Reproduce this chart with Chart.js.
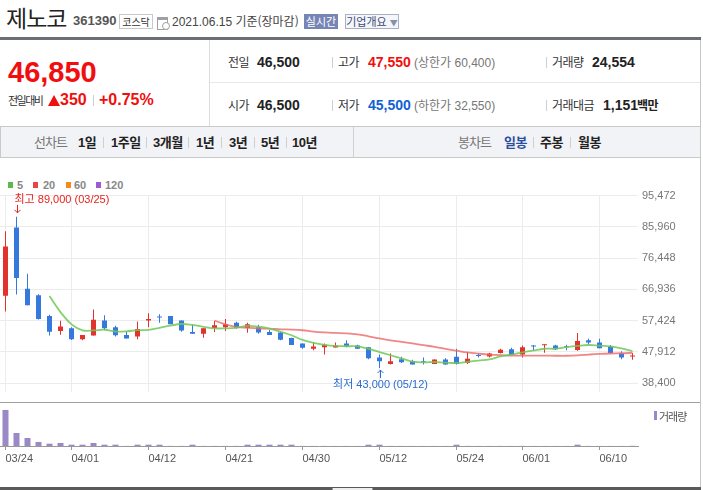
<!DOCTYPE html>
<html lang="ko">
<head>
<meta charset="UTF-8">
<title>제노코 일봉</title>
<script src="https://cdn.jsdelivr.net/npm/chart.js"></script>
<style>
  body { margin:0; width:703px; height:490px; position:relative; overflow:hidden; background:#fff;
         font-family:"Liberation Sans", Arial, "Noto Sans CJK KR", sans-serif; color:#333; }
  .a { position:absolute; white-space:nowrap; line-height:20px; }
  .k { font-family:"Noto Sans CJK KR", sans-serif; }
  .b { font-weight:bold; }
  .ln { position:absolute; }
  .lbl { font-family:"Noto Sans CJK KR", sans-serif; font-size:12px; color:#333; letter-spacing:-0.5px; }
  .val { font-size:14px; font-weight:bold; color:#222; }
  .sub { font-size:12px; color:#777; }
  .tab { font-size:13px; font-weight:bold; color:#222; letter-spacing:-0.5px; }
  .sep { position:absolute; width:1px; background:#cfcfcf; }
  canvas { position:absolute; left:0; }
</style>
</head>
<body>
  <!-- 종목명 -->
  <div class="a k" style="left:6px;top:4px;font-size:23px;line-height:26px;color:#222;letter-spacing:-1px">제노코</div>
  <div class="a b" style="left:73px;top:11px;font-size:13px;color:#555">361390</div>
  <div class="a k" style="left:119px;top:14px;width:32px;height:13px;border:1px solid #c8c8c8;font-size:10px;line-height:13px;text-align:center;color:#333">코스닥</div>
  <div class="ln" style="left:157px;top:17px;width:9px;height:9px;border:1px solid #a0a0a0;border-top:3px solid #a0a0a0"></div>
  <div class="ln" style="left:162px;top:22px;width:6px;height:6px;border:1px solid #a0a0a0;border-radius:50%;background:#fff"></div>
  <div class="a" style="left:172px;top:11px;font-size:12px;color:#444">2021.06.15 <span class="k">기준(장마감)</span></div>
  <div class="a k" style="left:304px;top:14px;width:34px;height:15px;background:#7685b6;color:#fff;font-size:11px;line-height:15px;text-align:center">실시간</div>
  <div class="a k" style="left:345px;top:14px;width:52px;height:13px;border:1px solid #a9b0c6;background:#f5f6fa;color:#3d4a76;font-size:11px;line-height:13px;text-align:center">기업개요 <span style="font-size:8px;color:#8a90a8">▼</span></div>

  <div class="ln" style="left:0;top:37px;width:701px;height:3px;background:#6b6e75"></div>
  <div class="ln" style="left:700px;top:40px;width:1px;height:450px;background:#c6c6c6"></div>

  <!-- 현재가 -->
  <div class="ln" style="left:209px;top:40px;width:1px;height:86px;background:#dcdcdc"></div>
  <div class="ln" style="left:210px;top:82px;width:490px;height:1px;background:#e8e8e8"></div>
  <div class="a b" style="left:8px;top:58px;font-size:29px;line-height:29px;color:#f00e0e">46,850</div>
  <div class="a k" style="left:8px;top:90px;font-size:11px;color:#333;letter-spacing:-1.5px">전일대비</div>
  <div class="ln" style="left:48px;top:95px;width:0;height:0;border-left:6px solid transparent;border-right:6px solid transparent;border-bottom:11px solid #f00e0e"></div>
  <div class="a b" style="left:60px;top:90px;font-size:16px;color:#f00e0e">350</div>
  <div class="sep" style="left:93px;top:95px;height:11px"></div>
  <div class="a b" style="left:99px;top:90px;font-size:16px;color:#f00e0e">+0.75%</div>

  <div class="a lbl" style="left:228px;top:52px">전일</div>
  <div class="a val" style="left:257px;top:52px">46,500</div>
  <div class="sep" style="left:332px;top:57px;height:11px"></div>
  <div class="a lbl" style="left:338px;top:52px">고가</div>
  <div class="a val" style="left:368px;top:52px;color:#f00e0e">47,550</div>
  <div class="a sub" style="left:414px;top:52px">(<span class="k">상한가</span> 60,400)</div>
  <div class="sep" style="left:546px;top:57px;height:11px"></div>
  <div class="a lbl" style="left:552px;top:52px">거래량</div>
  <div class="a val" style="left:592px;top:52px">24,554</div>

  <div class="a lbl" style="left:228px;top:95px">시가</div>
  <div class="a val" style="left:257px;top:95px">46,500</div>
  <div class="sep" style="left:332px;top:100px;height:11px"></div>
  <div class="a lbl" style="left:338px;top:95px">저가</div>
  <div class="a val" style="left:368px;top:95px;color:#1261d4">45,500</div>
  <div class="a sub" style="left:414px;top:95px">(<span class="k">하한가</span> 32,550)</div>
  <div class="sep" style="left:546px;top:100px;height:11px"></div>
  <div class="a lbl" style="left:552px;top:95px">거래대금</div>
  <div class="a val" style="left:603px;top:95px">1,151</div>
  <div class="a lbl b" style="left:637px;top:95px;color:#222">백만</div>

  <!-- 기간 탭 -->
  <div class="ln" style="left:0;top:126px;width:699px;height:30px;background:#f2f3f6;border:1px solid #c9c9c9"></div>
  <div class="ln" style="left:353px;top:127px;width:1px;height:30px;background:#d0d0d0"></div>
  <div class="a k" style="left:34px;top:132px;font-size:13px;color:#777;letter-spacing:-1px">선차트</div>
  <div class="a tab" style="left:78px;top:132px">1<span class="k">일</span></div>
  <div class="sep" style="left:103px;top:137px;height:11px"></div>
  <div class="a tab" style="left:111px;top:132px">1<span class="k">주일</span></div>
  <div class="sep" style="left:146px;top:137px;height:11px"></div>
  <div class="a tab" style="left:153px;top:132px">3<span class="k">개월</span></div>
  <div class="sep" style="left:188px;top:137px;height:11px"></div>
  <div class="a tab" style="left:196px;top:132px">1<span class="k">년</span></div>
  <div class="sep" style="left:221px;top:137px;height:11px"></div>
  <div class="a tab" style="left:229px;top:132px">3<span class="k">년</span></div>
  <div class="sep" style="left:254px;top:137px;height:11px"></div>
  <div class="a tab" style="left:261px;top:132px">5<span class="k">년</span></div>
  <div class="sep" style="left:286px;top:137px;height:11px"></div>
  <div class="a tab" style="left:292px;top:132px">10<span class="k">년</span></div>
  <div class="a k" style="left:458px;top:132px;font-size:13px;color:#777;letter-spacing:-1px">봉차트</div>
  <div class="a tab k" style="left:504px;top:132px;color:#2e4f9e">일봉</div>
  <div class="sep" style="left:533px;top:137px;height:11px"></div>
  <div class="a tab k" style="left:540px;top:132px">주봉</div>
  <div class="sep" style="left:570px;top:137px;height:11px"></div>
  <div class="a tab k" style="left:578px;top:132px">월봉</div>

  <!-- 이동평균 범례 -->
  <div class="ln" style="left:8px;top:182px;width:5px;height:6px;background:#5cba47"></div>
  <div class="a b" style="left:17px;top:175px;font-size:11px;color:#888">5</div>
  <div class="ln" style="left:33px;top:182px;width:5px;height:6px;background:#e84545"></div>
  <div class="a b" style="left:43px;top:175px;font-size:11px;color:#888">20</div>
  <div class="ln" style="left:66px;top:182px;width:5px;height:6px;background:#f58a1f"></div>
  <div class="a b" style="left:74px;top:175px;font-size:11px;color:#888">60</div>
  <div class="ln" style="left:96px;top:182px;width:5px;height:6px;background:#9a5cd0"></div>
  <div class="a b" style="left:105px;top:175px;font-size:11px;color:#888">120</div>

  <canvas id="price" width="700" height="218" style="top:185px"></canvas>
  <div class="ln" style="left:0;top:402px;width:700px;height:1px;background:#a0a0a0"></div>
  <canvas id="volume" width="700" height="70" style="top:403px"></canvas>

  <div class="ln" style="left:654px;top:411px;width:3px;height:9px;background:#9b88c7"></div>
  <div class="a k" style="left:659px;top:406px;font-size:11px;color:#555;letter-spacing:-1px">거래량</div>

  <div class="ln" style="left:0;top:487px;width:701px;height:3px;background:#5a5a5a"></div>
  <div class="ln" style="left:332px;top:488px;width:39px;height:2px;background:#eee;border-left:1px solid #999;border-right:1px solid #999"></div>

<script>
  const dates = ['03/24','03/25','03/26','03/29','03/30','03/31','04/01','04/02','04/05','04/06',
                 '04/07','04/08','04/09','04/12','04/13','04/14','04/15','04/16','04/19','04/20',
                 '04/21','04/22','04/23','04/26','04/27','04/28','04/29','04/30','05/03','05/04',
                 '05/06','05/07','05/10','05/11','05/12','05/13','05/14','05/17','05/18','05/20',
                 '05/21','05/24','05/25','05/26','05/27','05/28','05/31','06/01','06/02','06/03',
                 '06/04','06/07','06/08','06/09','06/10','06/11','06/14','06/15'];
  const dateTicks = ['03/24','04/01','04/12','04/21','04/30','05/12','05/24','06/01','06/10'];
  const priceTicks = [38400, 47912, 57424, 66936, 76448, 85960, 95472];

  const opens  = [65000,85750,67100,65150,58850,54300,55100,51750,52900,57500,
                  55400,53100,52600,57500,58450,58850,57500,53950,53450,55200,
                  55400,56800,55200,55450,53950,53850,52150,50500,48850,49350,
                  49250,50500,49850,49350,46200,44250,45700,45100,44800,44250,
                  45600,46450,44550,46750,46550,47600,48700,47150,49600,49950,
                  49850,49400,48500,51450,50800,49550,47400,46500];
  const highs  = [84600,89000,71700,65450,59200,57400,55400,53100,60850,59100,
                  55850,54250,57200,59700,59400,58850,57500,56250,55100,57300,
                  57950,57100,56800,56150,54600,54050,52200,50500,50800,50500,
                  50800,51450,50100,49350,47150,47400,46450,45500,46200,45600,
                  46000,48850,47900,47400,47700,48850,49150,49850,50000,50200,
                  50100,50100,53650,51950,51950,50000,48100,47550];
  const lows   = [60200,65350,62100,57750,52900,53150,51550,51450,52900,54600,
                  52600,52000,51750,55400,56800,56350,54050,53450,52200,53950,
                  54300,55000,53750,53450,53100,51450,50000,48850,48400,47150,
                  49250,49350,48850,45700,43000,44100,44550,44100,44100,44250,
                  44000,44100,44250,46250,46200,47400,46950,46200,48200,47700,
                  48500,48400,48300,50100,49050,47400,45700,45500];
  const closes = [80000,70400,62100,57950,54050,55650,51750,53100,57700,55100,
                  53000,52000,54900,57950,58400,56350,54450,53450,55100,56050,
                  56350,55300,56350,53850,53100,51650,50000,49150,49550,50100,
                  49850,49550,48850,46000,45050,45050,44750,44100,44750,45600,
                  44100,44250,45800,46700,47400,48550,46950,49350,49550,50000,
                  48700,49350,51250,50800,49050,47600,46250,46850];
  const volumes = [4360000,1570000,970000,490000,280000,360000,160000,160000,360000,160000,
                   160000,12000,160000,160000,160000,12000,11000,160000,10000,11000,
                   10000,12000,160000,160000,160000,160000,160000,10000,9000,10000,
                   8000,9000,8000,160000,160000,11000,9000,8000,8000,8000,
                   8000,160000,12000,9000,8000,10000,9000,12000,8000,8000,
                   7000,8000,160000,10000,9000,8000,8000,24554];

  const UP = '#e3312b', DOWN = '#3579df';
  const candleColor = closes.map((c, i) => c >= opens[i] ? UP : DOWN);
  const fontFamily = '"Liberation Sans", Arial, "Noto Sans CJK KR", sans-serif';

  // 이동평균선 (종가 기준)
  function movingAvg(n) {
    return closes.map((c, i) => i < n - 1 ? null
      : closes.slice(i - n + 1, i + 1).reduce((s, v) => s + v, 0) / n);
  }

  function arrow(ctx, x, from, to) {
    const d = to > from ? 1 : -1;
    ctx.lineWidth = 1;
    ctx.beginPath();
    ctx.moveTo(x, from);
    ctx.lineTo(x, to);
    ctx.moveTo(x - 3, to - 3 * d);
    ctx.lineTo(x, to);
    ctx.lineTo(x + 3, to - 3 * d);
    ctx.stroke();
  }

  // 최고/최저 표시
  const extremes = {
    id: 'extremes',
    afterDatasetsDraw(chart) {
      const { ctx, scales: { x, y } } = chart;
      const hi = highs.indexOf(Math.max(...highs));
      const lo = lows.indexOf(Math.min(...lows));
      ctx.save();
      ctx.font = '11px ' + fontFamily;
      ctx.textBaseline = 'middle';

      let px = Math.round(x.getPixelForValue(hi)) + 0.5;
      let py = y.getPixelForValue(highs[hi]);
      ctx.fillStyle = ctx.strokeStyle = '#e8231d';
      ctx.textAlign = 'left';
      ctx.fillText('최고 ' + highs[hi].toLocaleString('en-US') + ' (' + dates[hi] + ')', px - 3, py - 17);
      arrow(ctx, px, py - 12, py - 4);

      px = Math.round(x.getPixelForValue(lo)) + 0.5;
      py = y.getPixelForValue(lows[lo]);
      ctx.fillStyle = ctx.strokeStyle = '#2a6bd1';
      ctx.textAlign = 'center';
      ctx.fillText('최저 ' + lows[lo].toLocaleString('en-US') + ' (' + dates[lo] + ')', px, py + 17);
      arrow(ctx, px, py + 10, py + 2);
      ctx.restore();
    }
  };

  const isTick = i => dateTicks.includes(dates[i]);

  new Chart(document.getElementById('price'), {
    type: 'bar',
    data: {
      labels: dates,
      datasets: [
        { type: 'line', label: '5', data: movingAvg(5), borderColor: 'rgba(112,200,88,0.85)',
          borderWidth: 1.8, pointRadius: 0, tension: 0.4, order: 0 },
        { type: 'line', label: '20', data: movingAvg(20), borderColor: 'rgba(238,104,104,0.8)',
          borderWidth: 1.8, pointRadius: 0, tension: 0.4, order: 0 },
        { label: 'body', data: opens.map((o, i) => [o, closes[i]]), backgroundColor: candleColor,
          barThickness: 5, minBarLength: 1, inflateAmount: 0, grouped: false, order: 1 },
        { label: 'wick', data: lows.map((l, i) => [l, highs[i]]), backgroundColor: candleColor,
          barThickness: 1, inflateAmount: 0, grouped: false, order: 2 }
      ]
    },
    options: {
      responsive: false,
      animation: false,
      layout: { padding: { top: 9.5, left: 0, right: 0, bottom: 0 } },
      plugins: { legend: { display: false }, tooltip: { enabled: false } },
      scales: {
        x: {
          grid: { offset: false, drawTicks: false,
                  color: ctx => isTick(ctx.index) ? '#ececec' : 'rgba(0,0,0,0)' },
          border: { display: false },
          ticks: { display: false, autoSkip: false }
        },
        y: {
          position: 'right',
          min: 35600,
          max: 95472,
          afterBuildTicks: ax => { ax.ticks = priceTicks.map(v => ({ value: v })); },
          afterFit: ax => { ax.width = 62; },
          grid: { color: '#ececec', drawTicks: false },
          border: { display: false },
          ticks: { padding: 4, color: '#777', font: { size: 11, family: fontFamily },
                   callback: v => v.toLocaleString('en-US') }
        }
      }
    },
    plugins: [extremes]
  });

  new Chart(document.getElementById('volume'), {
    type: 'bar',
    data: {
      labels: dates,
      datasets: [{ label: '거래량', data: volumes, backgroundColor: '#9b88c7',
                   barThickness: 6, inflateAmount: 0 }]
    },
    options: {
      responsive: false,
      animation: false,
      layout: { padding: { top: 0, left: 0, right: 62, bottom: 0 } },
      plugins: { legend: { display: false }, tooltip: { enabled: false } },
      scales: {
        x: {
          grid: { offset: false, drawOnChartArea: false, tickLength: 4,
                  tickColor: ctx => isTick(ctx.index) ? '#999' : 'rgba(0,0,0,0)' },
          border: { color: '#999' },
          ticks: { autoSkip: false, minRotation: 0, maxRotation: 0, align: 'start', padding: 2,
                   color: '#555', font: { size: 11, family: fontFamily },
                   callback: (v, i) => isTick(i) ? dates[i] : '' },
          afterFit: ax => { ax.height = 27; }
        },
        y: { display: false, min: 0, max: 5200000 }
      }
    }
  });
</script>
</body>
</html>
